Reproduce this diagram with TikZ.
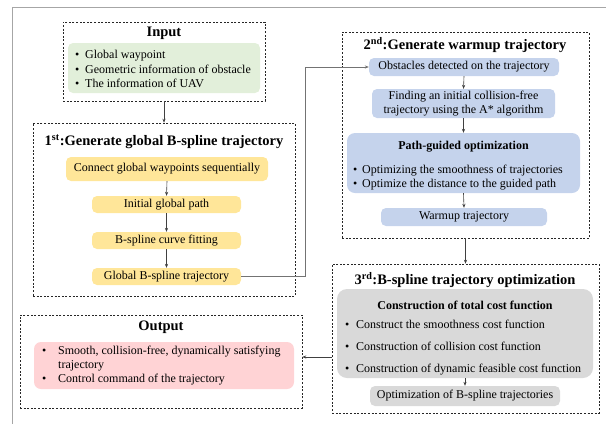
\documentclass[tikz,border=0pt]{standalone}
\usepackage{fontspec}
\setmainfont{Liberation Serif}
\usetikzlibrary{arrows.meta}
\definecolor{cgreen}{HTML}{E2EFDA}
\definecolor{cyellow}{HTML}{FFE699}
\definecolor{cblue}{HTML}{C5D3EC}
\definecolor{cgray}{HTML}{D9D9D9}
\definecolor{cpink}{HTML}{FFD3D5}
\definecolor{cframe}{HTML}{A6A6A6}
\definecolor{cline}{HTML}{404040}
\newcommand{\mybul}[1][10pt]{\makebox[#1][l]{\textbullet}}
\begin{document}
\begin{tikzpicture}[x=1pt,y=-1pt,
  dbox/.style={draw=black!85, dash pattern=on 2pt off 1.6pt, line width=0.6pt, inner sep=0pt},
  cbox/.style={rounded corners=5pt, inner sep=0pt, font=\fontsize{12}{14.5}\selectfont, align=center},
  gbox/.style={cbox, fill=cgreen},
  ybox/.style={cbox, fill=cyellow},
  bbox/.style={cbox, fill=cblue},
  grbox/.style={cbox, fill=cgray},
  pbox/.style={cbox, fill=cpink},
  title/.style={inner sep=0pt, font=\fontsize{14.5}{17}\selectfont\bfseries},
  head/.style={inner sep=0pt, font=\fontsize{12}{14}\selectfont\bfseries},
  txt/.style={inner sep=0pt, align=left, font=\fontsize{12}{14.5}\selectfont},
  arr/.style={draw=cline, line width=0.6pt, -{Stealth[length=4pt,width=3.2pt]}},
  garr/.style={draw=black!55, line width=0.7pt, -{Stealth[length=4pt,width=3.2pt]}}
]
\useasboundingbox (0,0) rectangle (606,424);
% outer frame
\draw[cframe, line width=0.8pt] (606,7) -- (12,7) -- (12,424);

% Input
\node[dbox, minimum width=202, minimum height=79] (in) at (164,61.5) {};
\node[title] (tin) at (164,33) {Input};
\node[gbox, minimum width=192, minimum height=50] (ing) at (164,68) {};
\node[txt, anchor=west] (intxt) at (75,69) {\mybul Global waypoint\\ \mybul Geometric information of obstacle\\ \mybul The information of UAV};

% 1st
\node[dbox, minimum width=262, minimum height=173] (g1) at (164,209.5) {};
\node[title] (t1) at (164,142) {1\textsuperscript{st}:Generate global B-spline trajectory};
\node[ybox, minimum width=202, minimum height=24] (c1) at (167,169) {Connect global waypoints sequentially};
\node[ybox, minimum width=149, minimum height=17] (c2) at (166.5,204.5) {Initial global path};
\node[ybox, minimum width=149, minimum height=17] (c3) at (166.5,240.5) {B-spline curve fitting};
\node[ybox, minimum width=149, minimum height=17] (c4) at (166.5,276.5) {Global B-spline trajectory};

% 2nd
\node[dbox, minimum width=247, minimum height=206] (g2) at (465.5,135) {};
\node[title] (t2) at (465,45) {2\textsuperscript{nd}:Generate warmup trajectory};
\node[bbox, minimum width=190, minimum height=18] (b1) at (464,67) {Obstacles detected on the trajectory};
\node[bbox, minimum width=183, minimum height=29, font=\fontsize{12}{13.5}\selectfont] (b2) at (463.5,103.5) {Finding an initial collision-free\\trajectory using the A* algorithm};
\node[bbox, minimum width=233, minimum height=60, rounded corners=8pt] (b3) at (463.5,163) {};
\node[head] (b3h) at (463.5,147) {Path-guided optimization};
\node[txt, anchor=west, font=\fontsize{12}{14}\selectfont] (b3t) at (353,178) {\mybul[9pt]Optimizing the smoothness of trajectories\\ \mybul[9pt]Optimize the distance to the guided path};
\node[bbox, minimum width=166, minimum height=18] (b4) at (464,217) {Warmup trajectory};

% 3rd
\node[dbox, minimum width=267, minimum height=149] (g3) at (465.5,338.5) {};
\node[title] (t3) at (465,280) {3\textsuperscript{rd}:B-spline trajectory optimization};
\node[grbox, minimum width=256, minimum height=89, rounded corners=10pt] (r1) at (465,333.5) {};
\node[head] (r1h) at (465,305) {Construction of total cost function};
\node[txt, anchor=west] (r1t) at (345,347.5) {\mybul[11pt]Construct the smoothness cost function\\[7.5pt] \mybul[11pt]Construction of collision cost function\\[7.5pt] \mybul[11pt]Construction of dynamic feasible cost function};
\node[grbox, minimum width=190, minimum height=20] (r2) at (465,396) {Optimization of B-spline trajectories};

% Output
\node[dbox, minimum width=282, minimum height=93] (out) at (161,361.5) {};
\node[title] (tout) at (161,327) {Output};
\node[pbox, minimum width=260, minimum height=47, rounded corners=7pt] (pk) at (164,365.5) {};
\node[txt, anchor=west, font=\fontsize{12}{14}\selectfont] (pkt) at (42,366) {\mybul[16pt]Smooth, collision-free, dynamically satisfying\\ \hspace*{16pt}trajectory\\ \mybul[16pt]Control command of the trajectory};

% connectors
\coordinate (rx) at (305,0);
\draw[arr] (in.south) -- (g1.north);
\draw[arr] (c1.south) -- (c2.north);
\draw[arr] (c2.south) -- (c3.north);
\draw[arr] (c3.south) -- (c4.north);
\draw[garr] (c4.east) -- (c4.east -| rx) |- (b1.west);
\draw[arr] (b1.south) -- (b2.north);
\draw[arr] (b2.south) -- (b3.north);
\draw[arr] (b3.south) -- (b4.north);
\draw[arr] (g2.south) -- (g3.north);
\draw[arr] (r1.south) -- (r2.north);
\coordinate (oy) at (0,357);
\draw[arr] (g3.west |- oy) -- (out.east |- oy);
\end{tikzpicture}
\end{document}
